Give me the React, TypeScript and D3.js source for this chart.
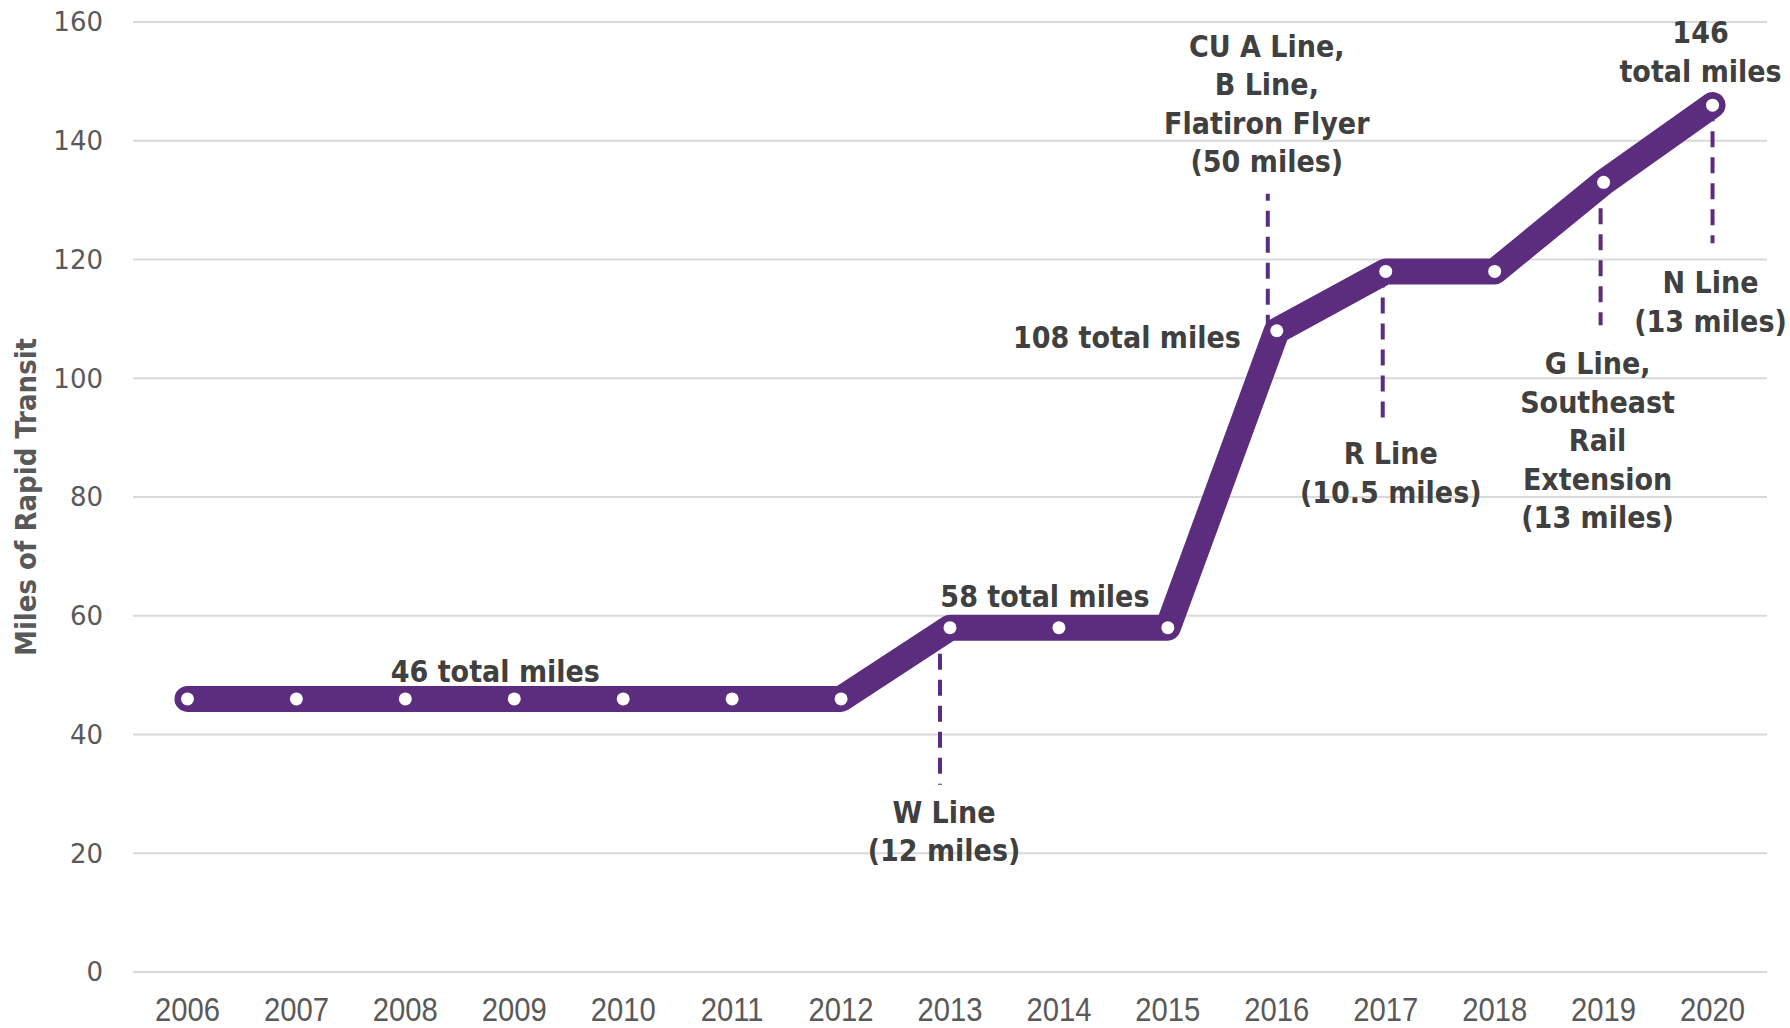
import React from "react";
import * as d3 from "d3";

const years = [2006, 2007, 2008, 2009, 2010, 2011, 2012, 2013, 2014, 2015, 2016, 2017, 2018, 2019, 2020];
const miles = [46, 46, 46, 46, 46, 46, 46, 58, 58, 58, 108, 118, 118, 133, 146];
const yTicks = [0, 20, 40, 60, 80, 100, 120, 140, 160];
const yTitle = "Miles of Rapid Transit";

const totalLabels = [
  { year: 2008, lines: ["46 total miles"] },
  { year: 2014, lines: ["58 total miles"] },
  { year: 2016, lines: ["108 total miles"] },
  { year: 2020, lines: ["146", "total miles"] },
];
const lineLabels = [
  { year: 2013, lines: ["W Line", "(12 miles)"] },
  { year: 2016, lines: ["CU A Line,", "B Line,", "Flatiron Flyer", "(50 miles)"] },
  { year: 2017, lines: ["R Line", "(10.5 miles)"] },
  { year: 2019, lines: ["G Line,", "Southeast", "Rail", "Extension", "(13 miles)"] },
  { year: 2020, lines: ["N Line", "(13 miles)"] },
];

// layout (pixel offsets relative to the data point)
const totalLayout = [
  { dx: 90, dy: -17, anchor: "middle" },
  { dx: -14, dy: -21, anchor: "middle" },
  { dx: -36, dy: 17, anchor: "end" },
  { dx: -12, dy: -62, anchor: "middle" },
];
const lineLayout = [
  { dx: -6, dy: 195, leaderDx: -10, leaderDy: 157 },
  { dx: -10, dy: -274, leaderDx: -9, leaderDy: -137 },
  { dx: 5, dy: 193, leaderDx: -3, leaderDy: 146 },
  { dx: -6, dy: 192, leaderDx: -3, leaderDy: 143 },
  { dx: -2, dy: 188, leaderDx: 0, leaderDy: 138 },
];

const W = 1790;
const H = 1028;
const purple = "#5c2d7e";
const textDark = "#404040";
const axisGrey = "#595959";
const labelFont = "'DejaVu Sans Condensed', 'DejaVu Sans', sans-serif";
const yearFont = "'Liberation Sans', Arial, sans-serif";
const LH = 38.5;

export default function App() {
  const x = d3.scalePoint<number>().domain(years).range([133, 1767]).padding(0.5);
  const y = d3.scaleLinear().domain([0, 160]).range([972, 22]);
  const data = years.map((yr, i) => ({ yr, v: miles[i] }));
  const line = d3
    .line<{ yr: number; v: number }>()
    .x((d) => x(d.yr)!)
    .y((d) => y(d.v));
  const valueOf = (yr: number) => miles[years.indexOf(yr)];

  return (
    <div style={{ position: "absolute", left: 0, top: 0 }}>
      <svg width={W} height={H} style={{ display: "block", background: "#fff" }}>
        {yTicks.map((t) => (
          <g key={t}>
            <line x1={133} x2={1767} y1={y(t)} y2={y(t)} stroke="#d9d9d9" strokeWidth={2} />
            <text
              x={103}
              y={y(t)}
              dy="0.36em"
              textAnchor="end"
              fontFamily="'DejaVu Sans', sans-serif"
              fontSize={26}
              fill={axisGrey}
            >
              {t}
            </text>
          </g>
        ))}
        {years.map((yr) => (
          <text
            key={yr}
            transform={`translate(${x(yr)}, 1021) scale(0.86, 1)`}
            textAnchor="middle"
            fontFamily={yearFont}
            fontSize={34}
            fill={axisGrey}
          >
            {yr}
          </text>
        ))}
        <text
          transform={`translate(36, ${(y(0) + y(160)) / 2}) rotate(-90)`}
          textAnchor="middle"
          fontFamily={labelFont}
          fontStretch="condensed"
          fontWeight="bold"
          fontSize={29}
          fill={axisGrey}
        >
          {yTitle}
        </text>

        {lineLabels.map((a, i) => {
          const L = lineLayout[i];
          const px = x(a.year)!;
          const py = y(valueOf(a.year));
          return (
            <line
              key={"ld" + i}
              x1={px + L.leaderDx}
              x2={px + L.leaderDx}
              y1={py}
              y2={py + L.leaderDy}
              stroke={purple}
              strokeWidth={4}
              strokeDasharray="16 10"
            />
          );
        })}

        <path
          d={line(data) || ""}
          fill="none"
          stroke={purple}
          strokeWidth={26}
          strokeLinecap="round"
          strokeLinejoin="round"
        />
        {data.map((d) => (
          <circle key={d.yr} cx={x(d.yr)} cy={y(d.v)} r={6.5} fill="#fff" />
        ))}

        {totalLabels.map((a, i) => {
          const L = totalLayout[i];
          const px = x(a.year)!;
          const py = y(valueOf(a.year));
          return (
            <text
              key={"t" + i}
              x={px + L.dx}
              y={py + L.dy}
              textAnchor={L.anchor}
              fontFamily={labelFont}
              fontStretch="condensed"
              fontWeight="bold"
              fontSize={30}
              fill={textDark}
            >
              {a.lines.map((s, j) => (
                <tspan key={j} x={px + L.dx} dy={j === 0 ? 0 : LH}>
                  {s}
                </tspan>
              ))}
            </text>
          );
        })}
        {lineLabels.map((a, i) => {
          const L = lineLayout[i];
          const px = x(a.year)!;
          const py = y(valueOf(a.year));
          return (
            <text
              key={"l" + i}
              x={px + L.dx}
              y={py + L.dy}
              textAnchor="middle"
              fontFamily={labelFont}
              fontStretch="condensed"
              fontWeight="bold"
              fontSize={30}
              fill={textDark}
            >
              {a.lines.map((s, j) => (
                <tspan key={j} x={px + L.dx} dy={j === 0 ? 0 : LH}>
                  {s}
                </tspan>
              ))}
            </text>
          );
        })}
      </svg>
    </div>
  );
}
